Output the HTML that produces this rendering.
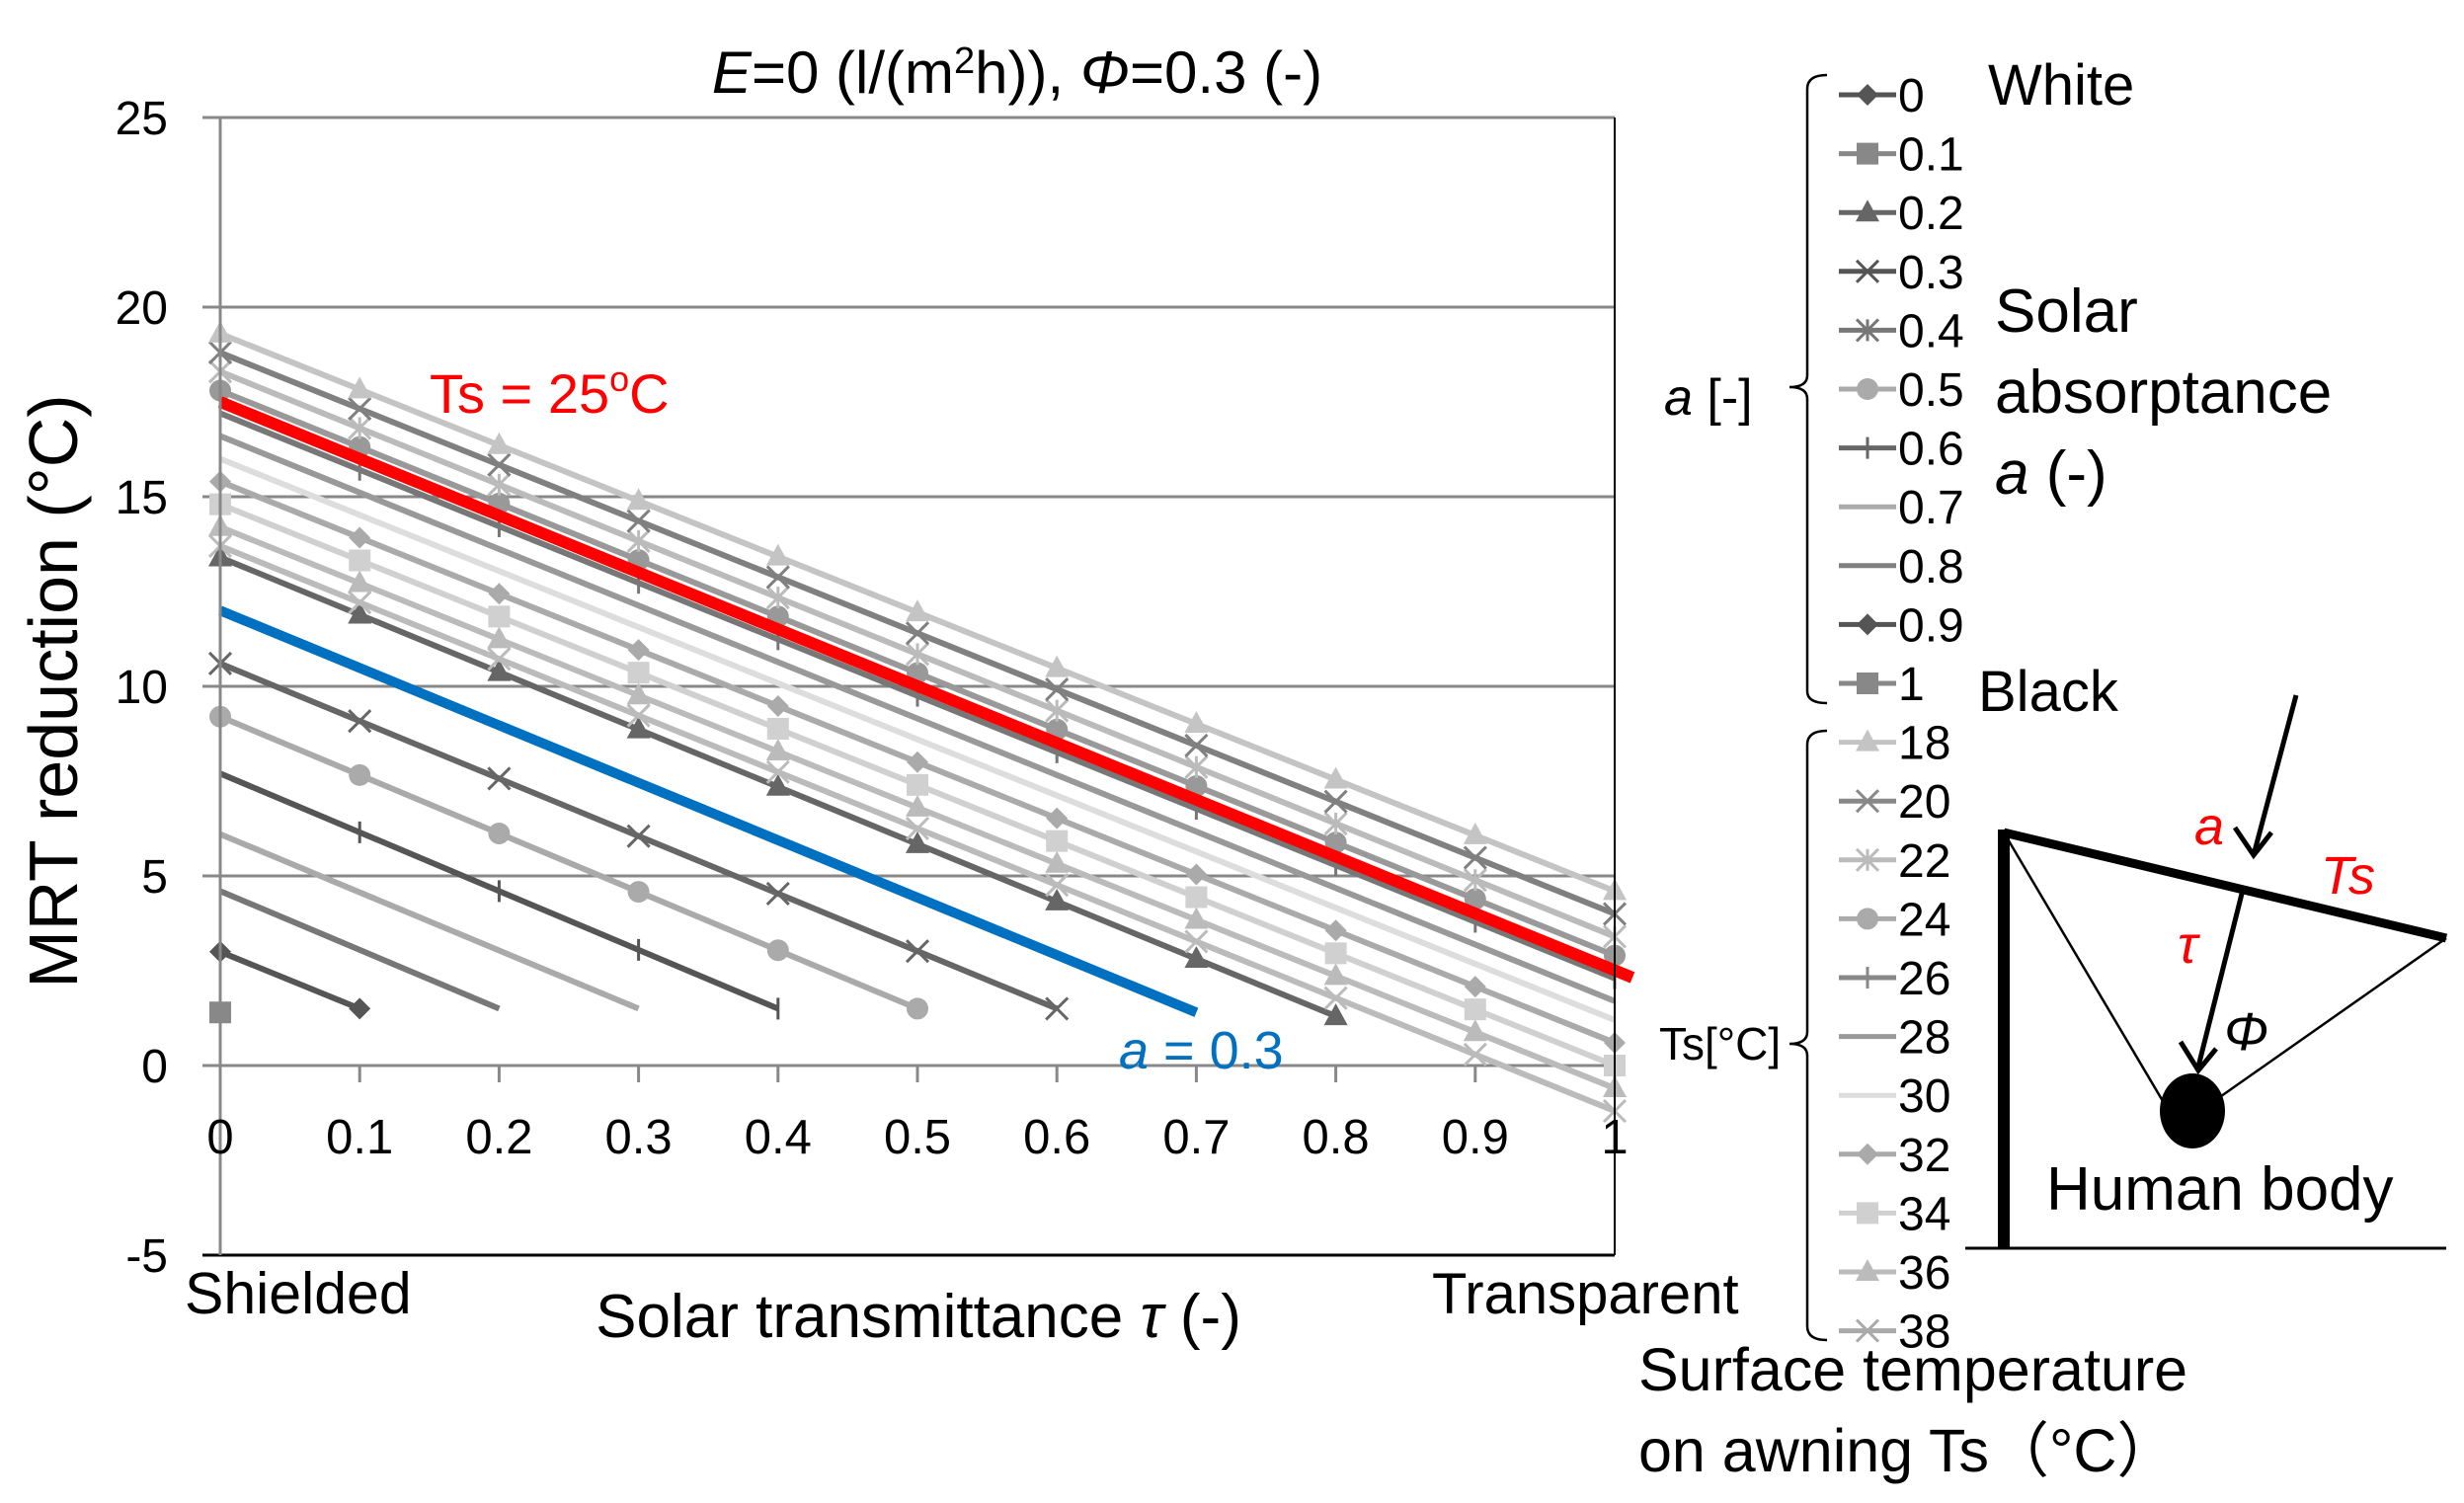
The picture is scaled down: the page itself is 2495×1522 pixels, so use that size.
<!DOCTYPE html>
<html><head><meta charset="utf-8"><style>
html,body{margin:0;padding:0;background:#fff;}
svg{display:block;font-family:"Liberation Sans",sans-serif;}
</style></head><body>
<svg id="chart" width="2495" height="1522" viewBox="0 0 2495 1522" xmlns="http://www.w3.org/2000/svg">
<g id="grid"></g>
<g id="series"></g>
<g id="axes"></g>
<text x="1030" y="94" font-size="60" text-anchor="middle"><tspan font-style="italic">E</tspan>=0 (l/(m<tspan font-size="38" dy="-20">2</tspan><tspan dy="20">h)), </tspan><tspan font-style="italic">Φ</tspan>=0.3 (-)</text>
<text transform="translate(78,700) rotate(-90)" font-size="70" text-anchor="middle">MRT reduction (°C)</text>
<text x="930" y="1354" font-size="62" text-anchor="middle">Solar transmittance <tspan font-style="italic">τ</tspan> (-)</text>
<text x="187" y="1330" font-size="59">Shielded</text>
<text x="1450" y="1330" font-size="58">Transparent</text>
<text x="435" y="418" font-size="56" fill="#ff0000">Ts = 25<tspan font-size="36" dy="-22">o</tspan><tspan dy="22">C</tspan></text>
<text x="1133" y="1082" font-size="54" fill="#0070c0"><tspan font-style="italic">a</tspan> = 0.3</text>
<g id="legend"></g>
<path d="M1850,76 Q1830,76 1830,90 V380 Q1830,392 1812,392 Q1830,392 1830,404 V700 Q1830,712 1850,712" fill="none" stroke="#000" stroke-width="2.5"/>
<text x="1685" y="420" font-size="52"><tspan font-style="italic">a</tspan> [-]</text>
<path d="M1850,740 Q1830,740 1830,754 V1045 Q1830,1057 1812,1057 Q1830,1057 1830,1069 V1343 Q1830,1357 1850,1357" fill="none" stroke="#000" stroke-width="2.5"/>
<text x="1680" y="1073" font-size="46">Ts[°C]</text>
<text x="2013" y="106" font-size="58">White</text>
<text x="2020" y="336" font-size="62">Solar</text>
<text x="2020" y="418" font-size="62">absorptance</text>
<text x="2020" y="500" font-size="62"><tspan font-style="italic">a</tspan> (-)</text>
<text x="2003" y="720" font-size="58">Black</text>
<g>
<line x1="2029" y1="840" x2="2029" y2="1264" stroke="#000" stroke-width="12"/>
<line x1="1990" y1="1264" x2="2477" y2="1264" stroke="#000" stroke-width="3"/>
<line x1="2029" y1="843" x2="2477" y2="950" stroke="#000" stroke-width="9"/>
<line x1="2029" y1="843" x2="2190" y2="1115" stroke="#000" stroke-width="2.5"/>
<line x1="2477" y1="950" x2="2242" y2="1115" stroke="#000" stroke-width="2.5"/>
<ellipse cx="2220" cy="1125" rx="33" ry="38" fill="#000"/>
<line x1="2325" y1="704" x2="2283" y2="862" stroke="#000" stroke-width="5"/>
<path d="M2263,838 L2282,866 L2300,843" fill="none" stroke="#000" stroke-width="5"/>
<line x1="2270" y1="905" x2="2226" y2="1080" stroke="#000" stroke-width="5"/>
<path d="M2208,1055 L2226,1084 L2244,1062" fill="none" stroke="#000" stroke-width="5"/>
<text x="2222" y="855" font-size="54" fill="#ff0000" font-style="italic">a</text>
<text x="2350" y="905" font-size="54" fill="#ff0000" font-style="italic">Ts</text>
<text x="2205" y="975" font-size="54" fill="#ff0000" font-style="italic">τ</text>
<text x="2252" y="1063" font-size="54" font-style="italic">Φ</text>
<text x="2072" y="1225" font-size="62">Human body</text>
</g>
<text x="1659" y="1408" font-size="61">Surface temperature</text>
<text x="1659" y="1490" font-size="61">on awning Ts（°C）</text>
<script>
const yTicks=[25,20,15,10,5,0,-5];
const xTicks=[0,0.1,0.2,0.3,0.4,0.5,0.6,0.7,0.8,0.9,1];
// series: value at tau=0, value at tau end, tau end
const seriesNames=['s-a0','s-sq','s-02','s-03','s-04','s-05','s-06','a-0.3','s-08','ts38','ts36','ts34','ts32','ts30','ts28','ts26','ts24','ts22','ts20','ts18','ts25'];
const startValues=[3.0,1.4,4.6,6.1,7.7,9.2,10.6,12.0,13.4,13.7,14.2,14.8,15.4,16.0,16.6,17.2,17.8,18.3,18.8,19.3,17.5];
const endValues=[1.5,1.4,1.5,1.5,1.5,1.5,1.5,1.4,1.3,-1.2,-0.6,0.0,0.6,1.2,1.7,2.3,2.9,3.4,4.0,4.6,2.5];
const endTaus=[0.1,0,0.2,0.3,0.4,0.5,0.6,0.7,0.8,1,1,1,1,1,1,1,1,1,1,1,1];
const colors=['#555','#888','#777','#aaa','#555','#aaa','#666','#0070c0','#666','#bbb','#bbb','#d0d0d0','#aaa','#ddd','#999','#777','#999','#bbb','#808080','#c4c4c4','#ff0000'];
const markers=['diamond','square','none','none','plus','circle','x','none','triangle','x','triangle','square','diamond','none','none','plus','circle','star','x','triangle','none'];
const widths=[6,6,6,6,6,6,6,10,6,6,6,6,6,6,6,6,6,6,6,6,12];
const legendLabels=['0','0.1','0.2','0.3','0.4','0.5','0.6','0.7','0.8','0.9','1','18','20','22','24','26','28','30','32','34','36','38'];
const legendColors=['#555','#888','#666','#555','#777','#aaa','#666','#aaa','#808080','#555','#888','#c4c4c4','#888','#bbb','#aaa','#888','#999','#ddd','#aaa','#d0d0d0','#bbb','#aaa'];
const legendMarkers=['diamond','square','triangle','x','star','circle','plus','none','none','diamond','square','triangle','x','star','circle','plus','none','none','diamond','square','triangle','x'];

const NS='http://www.w3.org/2000/svg';
const X0=223,X1=1635,Y0=1079,PER=38.4;
const xs=t=>X0+(X1-X0)*t;
const ys=v=>Y0-v*PER;
function mk(tag,attrs,parent){const e=document.createElementNS(NS,tag);for(const k in attrs)e.setAttribute(k,attrs[k]);parent.appendChild(e);return e;}
function marker(type,x,y,c,parent){
  const s=11;let e;
  if(type==='diamond')e=mk('polygon',{points:`${x},${y-s} ${x+s},${y} ${x},${y+s} ${x-s},${y}`,fill:c},parent);
  else if(type==='square')e=mk('rect',{x:x-s,y:y-s,width:2*s,height:2*s,fill:c},parent);
  else if(type==='triangle')e=mk('polygon',{points:`${x},${y-s-2} ${x+s+1},${y+s-2} ${x-s-1},${y+s-2}`,fill:c},parent);
  else if(type==='circle')e=mk('circle',{cx:x,cy:y,r:s,fill:c},parent);
  else if(type==='x')e=mk('path',{d:`M${x-s},${y-s}L${x+s},${y+s}M${x-s},${y+s}L${x+s},${y-s}`,stroke:c,'stroke-width':3},parent);
  else if(type==='plus')e=mk('path',{d:`M${x},${y-s}V${y+s}`,stroke:c,'stroke-width':3},parent);
  else if(type==='star')e=mk('path',{d:`M${x-s},${y-s}L${x+s},${y+s}M${x-s},${y+s}L${x+s},${y-s}M${x},${y-s}V${y+s}`,stroke:c,'stroke-width':3},parent);
  if(e){
  }
}
const grid=document.getElementById('grid');
yTicks.forEach(v=>{
  const l=mk('line',{x1:205,x2:X1,y1:ys(v),y2:ys(v),stroke:v===-5?'#000':'#888','stroke-width':3},grid);
  
  
  const t=mk('text',{x:170,y:ys(v)+17,'font-size':48,'text-anchor':'end'},grid);t.textContent=v;
  
  
});
const ax=document.getElementById('axes');
let la=mk('line',{x1:X0,x2:X0,y1:ys(25),y2:ys(-5),stroke:'#888','stroke-width':3},ax);


let ra=mk('line',{x1:X1,x2:X1,y1:ys(25),y2:ys(-5),stroke:'#000','stroke-width':2},ax);


xTicks.forEach(t=>{
  const tk=mk('line',{x1:xs(t),x2:xs(t),y1:Y0,y2:Y0+17,stroke:'#888','stroke-width':3},grid);
  
  
  const tx=mk('text',{x:xs(t),y:1168,'font-size':49,'text-anchor':'middle'},ax);tx.textContent=t;
  
  
});
const sg=document.getElementById('series');
seriesNames.forEach((n,i)=>{
  const g=mk('g',{},sg);
  
  
  const te=endTaus[i],y0=startValues[i],y1=endValues[i];
  if(te>0){const l=mk('line',{x1:xs(0),y1:ys(y0),x2:xs(te)+(widths[i]>10?18:0),y2:ys(y1+(widths[i]>10?(y1-y0)/te*0.012:0)),stroke:colors[i],'stroke-width':widths[i]},g);
  
  }
  if(markers[i]!=='none'){
    const steps=Math.round(te*10);
    for(let k=0;k<=steps;k++){const t=k/10;const v=te>0?y0+(y1-y0)*t/te:y0;marker(markers[i],xs(t),ys(v),colors[i],g);}
  }
});
const lg=document.getElementById('legend');
legendLabels.forEach((lab,i)=>{
  const y=96+i*59.6;
  const g=mk('g',{},lg);
  
  
  mk('line',{x1:1862,x2:1920,y1:y,y2:y,stroke:legendColors[i],'stroke-width':5},g);
  marker(legendMarkers[i],1891,y,legendColors[i],g);
  const t=mk('text',{x:1922,y:y+17,'font-size':48},g);t.textContent=lab;
  
  
});
</script>
</svg>
</body></html>
